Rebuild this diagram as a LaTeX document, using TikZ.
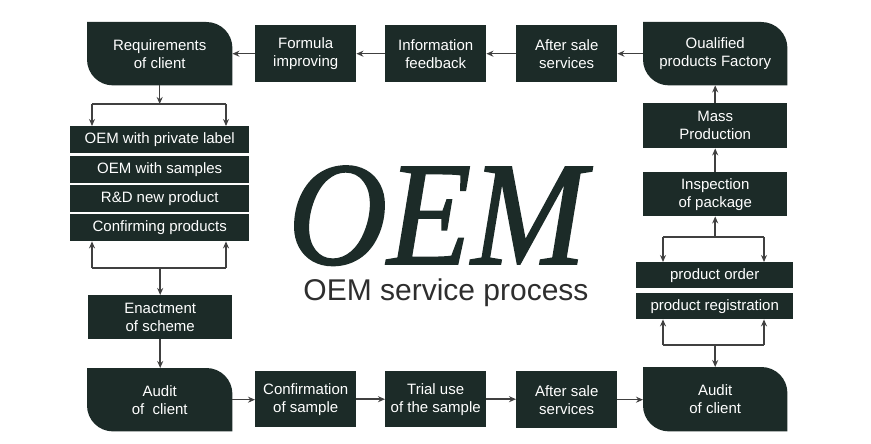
\documentclass[tikz,border=0pt]{standalone}
\usepackage{fontspec}
\setmainfont{Liberation Sans}
\newfontfamily\bigserif[FakeBold=1.2]{Liberation Serif}
\usetikzlibrary{arrows.meta,backgrounds,calc}
\definecolor{boxc}{HTML}{1C2B28}
\definecolor{arrc}{HTML}{404040}
\definecolor{titlec}{HTML}{2E2E2E}
\begin{document}
\begin{tikzpicture}[x=1pt,y=-1pt,
  box/.style={anchor=north west,rectangle,inner sep=0pt,text=white,align=center,
    font=\fontsize{15}{18}\selectfont},
  sqbox/.style={box,fill=boxc},
  rdbox/.style={box},
  conn/.style={draw=arrc,line width=1.5pt},
  arr/.style={conn,-{Stealth[length=7pt,width=6pt]}}]
\useasboundingbox (0,0) rectangle (871,444);
% top row
\node[rdbox,minimum width=145pt,minimum height=63pt] (req) at (87,22) {Requirements\\of client};
\node[sqbox,minimum width=101pt,minimum height=57pt] (formula) at (255,25) {Formula\\improving};
\node[sqbox,minimum width=101pt,minimum height=57pt] (info) at (385,25) {Information\\feedback};
\node[sqbox,minimum width=101pt,minimum height=57pt] (asstop) at (516,25) {After sale\\services};
\node[rdbox,minimum width=144pt,minimum height=63pt] (qual) at (643,22) {Oualified\\products Factory};
% right column
\node[sqbox,minimum width=144pt,minimum height=45pt] (mass) at (643,103) {Mass\\Production};
\node[sqbox,minimum width=144pt,minimum height=44pt] (insp) at (643,172) {Inspection\\of package};
\node[sqbox,minimum width=157pt,minimum height=26pt] (order) at (636,262) {product order};
\node[sqbox,minimum width=157pt,minimum height=26pt] (reg) at (636,293) {product registration};
% bottom row
\node[rdbox,minimum width=144pt,minimum height=64pt] (auditR) at (643,367) {Audit\\of client};
\node[sqbox,minimum width=101pt,minimum height=57pt] (assbot) at (516,371) {After sale\\services};
\node[sqbox,minimum width=101pt,minimum height=56pt] (trial) at (385,371) {Trial use\\of the sample};
\node[sqbox,minimum width=101pt,minimum height=56pt] (conf) at (255,371) {Confirmation\\of sample};
\node[rdbox,minimum width=145pt,minimum height=63pt] (auditL) at (87,368) {Audit\\of\ \ client};
% left column
\node[sqbox,minimum width=144pt,minimum height=44pt] (enact) at (88,295) {Enactment\\of scheme};
\node[sqbox,minimum width=179pt,minimum height=27pt] (s1) at (70,126) {OEM with private label};
\node[sqbox,minimum width=179pt,minimum height=27pt] (s2) at (70,156) {OEM with samples};
\node[sqbox,minimum width=179pt,minimum height=27pt] (s3) at (70,185) {R\&D new product};
\node[sqbox,minimum width=179pt,minimum height=27pt] (s4) at (70,214) {Confirming products};
% rounded backgrounds: top-right and bottom-left corners rounded
\begin{scope}[on background layer]
\foreach \n in {req,qual,auditR,auditL}{
  \fill[boxc] (\n.north west) -- ($(\n.north east)+(-26,0)$)
    .. controls ($(\n.north east)+(-11.6,0)$) and ($(\n.north east)+(0,11.6)$) .. ($(\n.north east)+(0,26)$)
    -- (\n.south east) -- ($(\n.south west)+(26,0)$)
    .. controls ($(\n.south west)+(11.6,0)$) and ($(\n.south west)+(0,-11.6)$) .. ($(\n.south west)+(0,-26)$)
    -- cycle;
}
\end{scope}
% title
\node[font=\bigserif\itshape\fontsize{148}{148}\selectfont,text=boxc,anchor=base,inner sep=0pt,text depth=0pt,xscale=0.93] (oem) at (437,264) {OEM};
\node[font=\fontsize{30}{30}\selectfont,text=titlec,anchor=base,inner sep=0pt] (sub) at (446,300) {OEM service process};
% top row arrows
\draw[arr] (formula.west) -- (formula.west -| req.east);
\draw[arr] (info.west) -- (formula.east);
\draw[arr] (asstop.west) -- (info.east);
\draw[arr] (asstop.east -| qual.west) -- (asstop.east);
% right column arrows
\draw[arr] (mass.north) -- (qual.south);
\draw[arr] (insp.north) -- (mass.south);
\coordinate (rtl) at (663,237);
\coordinate (rtr) at (764,237);
\draw[conn] (rtl) -- (rtr);
\draw[arr] (insp.south |- rtl) -- (insp.south);
\draw[arr] (rtl) -- (rtl |- order.north);
\draw[arr] (rtr) -- (rtr |- order.north);
\coordinate (rbl) at (663,345);
\coordinate (rbr) at (764,345);
\draw[conn] (rbl) -- (rbr);
\draw[arr] (rbl) -- (rbl |- reg.south);
\draw[arr] (rbr) -- (rbr |- reg.south);
\draw[arr] (auditR.north |- rbl) -- (auditR.north);
% bottom row arrows
\draw[arr] (auditL.east) -- (auditL.east -| conf.west);
\draw[arr] (conf.east) -- (trial.west);
\draw[arr] (trial.east) -- (trial.east -| assbot.west);
\draw[arr] (assbot.east) -- (assbot.east -| auditR.west);
% left column arrows
\draw[arr] (enact.south) -- (enact.south |- auditL.north);
\coordinate (ltl) at (92,104);
\coordinate (ltr) at (226,104);
\draw[conn] (ltl) -- (ltr);
\draw[arr] (req.south) -- (req.south |- ltl);
\draw[arr] (ltl) -- (ltl |- s1.north);
\draw[arr] (ltr) -- (ltr |- s1.north);
\coordinate (lbl) at (92,268);
\coordinate (lbr) at (226,268);
\draw[conn] (lbl) -- (lbr);
\draw[arr] (lbl) -- (lbl |- s4.south);
\draw[arr] (lbr) -- (lbr |- s4.south);
\draw[arr] (enact.north |- lbl) -- (enact.north);
\end{tikzpicture}
\end{document}
